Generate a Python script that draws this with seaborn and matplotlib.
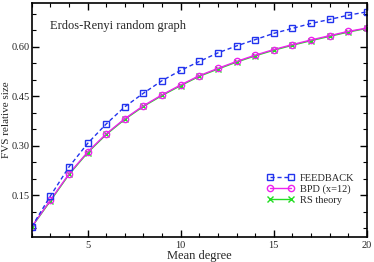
import numpy as np
import pandas as pd
import matplotlib
matplotlib.use("Agg")
import matplotlib.pyplot as plt
import seaborn as sns
from matplotlib.ticker import MultipleLocator

mean_degree = [2, 3, 4, 5, 6, 7, 8, 9, 10, 11, 12, 13, 14, 15, 16, 17, 18, 19, 20]
feedback = [0.055, 0.148, 0.236, 0.307, 0.366, 0.418, 0.459, 0.497, 0.528, 0.555,
            0.581, 0.602, 0.621, 0.640, 0.655, 0.670, 0.682, 0.695, 0.705]
bpd = [0.055, 0.135, 0.215, 0.281, 0.336, 0.382, 0.421, 0.454, 0.484, 0.512,
       0.534, 0.555, 0.574, 0.591, 0.606, 0.620, 0.633, 0.646, 0.656]
rs_theory = [0.054, 0.133, 0.213, 0.279, 0.334, 0.380, 0.419, 0.452, 0.482, 0.510,
             0.532, 0.553, 0.572, 0.589, 0.604, 0.618, 0.631, 0.644, 0.655]
series_names = ["FEEDBACK", "BPD (x=12)", "RS theory"]

sns.set_style("ticks")
plt.rcParams['font.family'] = ['Liberation Serif', 'DejaVu Serif']

df = pd.DataFrame({"x": mean_degree * 3,
                   "y": feedback + bpd + rs_theory,
                   "s": [series_names[0]] * len(mean_degree) + [series_names[1]] * len(mean_degree)
                        + [series_names[2]] * len(mean_degree)})

fig = plt.figure(figsize=(3.74, 2.62), dpi=100)
ax = fig.add_axes([0.085, 0.097, 0.896, 0.893])

styles = {
    series_names[2]: dict(color="#22dd22", marker="x", ls="-", mfc="none", ms=4.5, mew=1.0, lw=1.0),
    series_names[1]: dict(color="#ee22ee", marker="o", ls="-", mfc="none", ms=4.5, mew=1.0, lw=1.0),
    series_names[0]: dict(color="#2233ee", marker="s", ls=(0, (3, 2)), mfc="none", ms=4.5, mew=1.0, lw=1.0),
}
order = [series_names[2], series_names[1], series_names[0]]
for name in order:
    st = styles[name]
    sub = df[df.s == name]
    sns.lineplot(data=sub, x="x", y="y", ax=ax, color=st["color"], marker=st["marker"],
                 linestyle=st["ls"], markerfacecolor=st["mfc"], markeredgecolor=st["color"],
                 markersize=st["ms"], markeredgewidth=st["mew"], linewidth=st["lw"],
                 label=name, legend=False)

ax.set_xlim(2, 20)
ax.set_ylim(0.025, 0.733)
ax.xaxis.set_minor_locator(MultipleLocator(1))
ax.yaxis.set_minor_locator(MultipleLocator(0.05))
ax.set_yticks([0.15, 0.30, 0.45, 0.60])
ax.set_yticklabels(["0.15", "0.30", "0.45", "0.60"])
ax.set_xticks([5, 10, 15, 20])
ax.set_xticklabels(["5", "10", "15", "20"])
ax.tick_params(which="both", direction="in", top=True, right=True, labelsize=7.5, color="black")
ax.tick_params(which="major", length=5, width=1)
ax.tick_params(which="minor", length=3, width=0.8)
ax.tick_params(axis="y", which="major", pad=1.5)
ax.tick_params(axis="x", which="major", pad=3)
for sp in ax.spines.values():
    sp.set_linewidth(1.2)
    sp.set_color("black")

ax.set_xlabel("Mean degree", fontsize=9, labelpad=0)
ax.set_ylabel("FVS relative size", fontsize=8)
ax.yaxis.set_label_coords(-0.062, 0.5)
ax.text(0.055, 0.9, "Erdos-Renyi random graph", transform=ax.transAxes, fontsize=9, va="center")

handles, labels = ax.get_legend_handles_labels()
hmap = dict(zip(labels, handles))
ax.legend([hmap[n] for n in series_names], series_names, loc="lower right",
          bbox_to_anchor=(0.985, 0.105), frameon=False, fontsize=7.5, numpoints=2,
          handlelength=2.6, handletextpad=0.6, labelspacing=0.15, borderpad=0.2)

fig.savefig("out.png", dpi=100)
